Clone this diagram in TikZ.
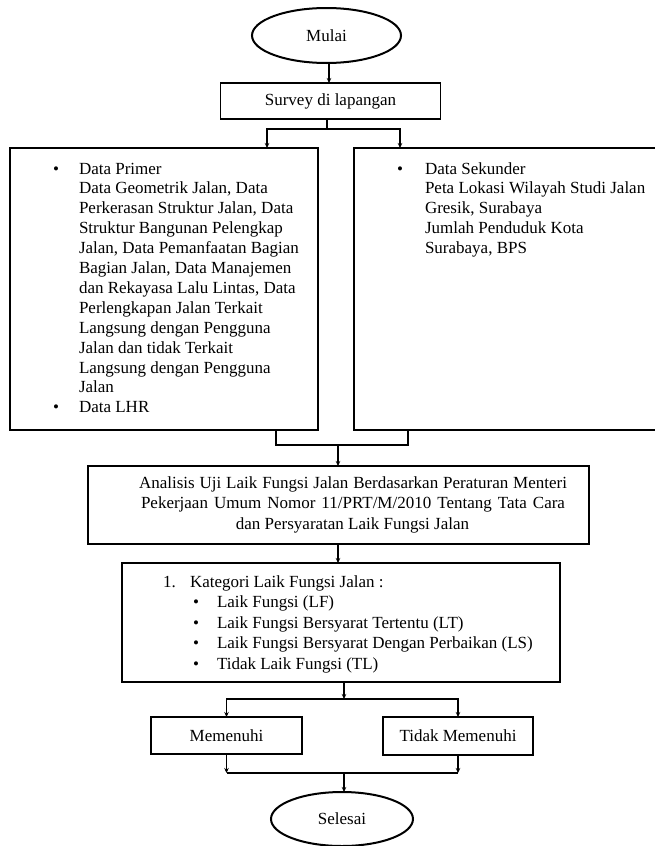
\documentclass[tikz,border=0pt]{standalone}
\usepackage{fontspec}
\setmainfont{Liberation Serif}
\usetikzlibrary{shapes.geometric,arrows.meta}
\begin{document}
\begin{tikzpicture}[x=1pt,y=-1pt,
  box/.style={draw, line width=1.2pt, inner sep=0pt, outer sep=0pt, font=\fontsize{17}{20}\selectfont},
  term/.style={draw, ellipse, line width=2pt, inner sep=0pt, outer sep=0pt, font=\fontsize{17}{20}\selectfont},
  txt/.style={inner sep=0pt, outer sep=0pt, font=\fontsize{17}{20}\selectfont},
  ln/.style={line width=1.2pt},
  arr/.style={line width=1.2pt, -{Stealth[length=5pt,width=4.5pt]}}]
\useasboundingbox (0,0) rectangle (655,846);

% terminals and boxes
\node[term, minimum width=149pt, minimum height=55pt] (mulai) at (326.5,35.5) {Mulai};
\node[box, minimum width=220pt, minimum height=36pt] (survey) at (330.5,101) {Survey di lapangan};
\node[box, minimum width=308pt, minimum height=282pt] (leftbox) at (164,289) {};
\node[box, minimum width=306pt, minimum height=282pt] (rightbox) at (507,289) {};
\node[box, minimum width=501pt, minimum height=78pt] (analysis) at (338.5,505) {};
\node[box, minimum width=438pt, minimum height=119pt] (kategori) at (341,622.5) {};
\node[box, minimum width=151pt, minimum height=37pt] (memenuhi) at (226.5,735.5) {Memenuhi};
\node[box, minimum width=150pt, minimum height=38pt] (tidak) at (458,736) {Tidak Memenuhi};
\node[term, minimum width=142pt, minimum height=54pt] (selesai) at (342,819) {Selesai};

% left box text
\node[txt, anchor=base] (bl1) at (56,174) {\textbullet};
\node[txt, anchor=base] (bl2) at (56,412.8) {\textbullet};
\foreach \t [count=\i] in {Data Primer, {Data Geometrik Jalan, Data}, {Perkerasan Struktur Jalan, Data},
  Struktur Bangunan Pelengkap, {Jalan, Data Pemanfaatan Bagian}, {Bagian Jalan, Data Manajemen},
  {dan Rekayasa Lalu Lintas, Data}, Perlengkapan Jalan Terkait, Langsung dengan Pengguna,
  Jalan dan tidak Terkait, Langsung dengan Pengguna, Jalan, Data LHR}
  \node[txt, anchor=base west] (L\i) at (79,{174+(\i-1)*19.9}) {\t};

% right box text
\node[txt, anchor=base] (br1) at (400,174) {\textbullet};
\foreach \t [count=\i] in {Data Sekunder, Peta Lokasi Wilayah Studi Jalan, {Gresik, Surabaya},
  Jumlah Penduduk Kota, {Surabaya, BPS}}
  \node[txt, anchor=base west] (R\i) at (425,{174+(\i-1)*19.9}) {\t};

% analysis text
\node[txt, anchor=base] (A1) at (353,488) {\makebox[428pt][s]{Analisis Uji Laik Fungsi Jalan Berdasarkan Peraturan Menteri}};
\node[txt, anchor=base] (A2) at (353,508.5) {\makebox[424pt][s]{Pekerjaan Umum Nomor 11/PRT/M/2010 Tentang Tata Cara}};
\node[txt, anchor=base] (A3) at (352.5,529) {dan Persyaratan Laik Fungsi Jalan};

% kategori text
\node[txt, anchor=base west] (K0n) at (163,587) {1.};
\node[txt, anchor=base west] (K0) at (190,587) {Kategori Laik Fungsi Jalan :};
\foreach \t [count=\i] in {Laik Fungsi (LF), Laik Fungsi Bersyarat Tertentu (LT),
  Laik Fungsi Bersyarat Dengan Perbaikan (LS), Tidak Laik Fungsi (TL)} {
  \node[txt, anchor=base] (KB\i) at (196,{587+\i*20.5}) {\textbullet};
  \node[txt, anchor=base west] (K\i) at (217,{587+\i*20.5}) {\t};
}

% connectors
\coordinate (mb) at (329,63);
\coordinate (sv) at (329,83);
\draw[arr] (mb) -- (sv);
\coordinate (sb) at (327,119);
\coordinate (s1) at (327,129);
\coordinate (lt) at (267,148);
\coordinate (rt) at (400,148);
\draw[ln] (sb) -- (s1);
\draw[arr] (s1) -| (lt);
\draw[arr] (s1) -| (rt);

\coordinate (lb) at (276,430);
\coordinate (rb) at (408,430);
\coordinate (jm) at (338,445);
\coordinate (an) at (338,466);
\draw[ln] (lb) |- (jm) -| (rb);
\draw[arr] (jm) -- (an);

\coordinate (ab) at (338,544);
\coordinate (kt) at (338,563);
\draw[arr] (ab) -- (kt);

\coordinate (kb) at (344,682);
\coordinate (kj) at (344,699);
\coordinate (mt) at (226.5,717);
\coordinate (tt) at (458,717);
\draw[arr] (kb) -- (kj);
\draw[arr] (kj) -| (mt);
\draw[arr] (kj) -| (tt);

\coordinate (mj) at (226.5,773);
\coordinate (tj) at (458,773);
\coordinate (sj) at (344,773);
\coordinate (st) at (344,792);
\draw[arr] (memenuhi.south) -- (mj);
\draw[arr] (tidak.south) -- (tj);
\draw[ln] (mj) -- (tj);
\draw[arr] (sj) -- (st);
\end{tikzpicture}
\end{document}
